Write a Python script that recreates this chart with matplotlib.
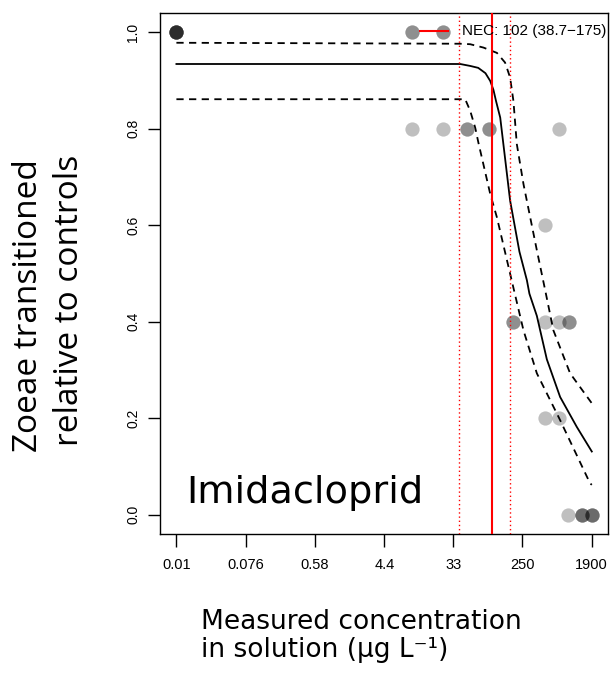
import numpy as np
import matplotlib.pyplot as plt

# observed proportions (n = number of overlapping replicates at that spot)
pt_conc = [0.01, 9.9, 24.5, 9.9, 24.5, 49.4, 95.7, 730, 480, 193, 480, 736, 986, 480, 736, 966, 1455, 1914]
pt_prop = [1.0, 1.0, 1.0, 0.8, 0.8, 0.8, 0.8, 0.8, 0.6, 0.4, 0.4, 0.4, 0.4, 0.2, 0.2, 0.0, 0.0, 0.0]
pt_n = [6, 2, 2, 1, 1, 2, 2, 1, 1, 2, 1, 1, 2, 1, 1, 1, 3, 3]

# fitted NEC curve (median) and credible band
fit_conc = [0.01, 40.6, 54.4, 68.8, 85, 97.7, 107.6, 116, 131, 175, 230, 286, 308, 383, 513, 757, 1233, 1914]
fit_mid = [0.934, 0.934, 0.930, 0.926, 0.915, 0.899, 0.880, 0.857, 0.823, 0.651, 0.545, 0.486, 0.458, 0.412, 0.322, 0.244, 0.182, 0.131]
up_conc = [0.01, 40.6, 54.4, 80.3, 119, 151, 175, 193, 213, 259, 383, 489, 622, 1014, 1914]
up_val = [0.978, 0.976, 0.975, 0.968, 0.957, 0.937, 0.906, 0.857, 0.768, 0.685, 0.548, 0.465, 0.382, 0.293, 0.231]
lo_conc = [0.01, 47, 54.4, 63, 69.4, 97.7, 119, 193, 259, 383, 757, 1820, 1914]
lo_val = [0.861, 0.861, 0.837, 0.802, 0.77, 0.665, 0.616, 0.47, 0.382, 0.293, 0.196, 0.065, 0.062]

nec = 102
nec_lo = 38.7
nec_hi = 175

xticks = [0.01, 0.076, 0.58, 4.4, 33, 250, 1900]
xtick_labels = ['0.01', '0.076', '0.58', '4.4', '33', '250', '1900']
yticks = [0.0, 0.2, 0.4, 0.6, 0.8, 1.0]

fig = plt.figure(figsize=(6.1, 6.76), dpi=100)
ax = fig.add_axes([0.262, 0.210, 0.735, 0.771])

# stack replicates so overlaps darken like the R plot
xs = np.repeat(pt_conc, pt_n)
ys = np.repeat(pt_prop, pt_n)
ax.scatter(xs, ys, s=105, color='black', alpha=0.25, linewidths=0, zorder=2)

ax.plot(fit_conc, fit_mid, color='black', lw=1.3, zorder=3)
ax.plot(up_conc, up_val, color='black', lw=1.3, ls=(0, (4, 3)), zorder=3)
ax.plot(lo_conc, lo_val, color='black', lw=1.3, ls=(0, (4, 3)), zorder=3)

ax.axvline(nec, color='red', lw=1.5, zorder=4)
ax.axvline(nec_lo, color='red', lw=1, ls=(0, (1, 2)), zorder=4)
ax.axvline(nec_hi, color='red', lw=1, ls=(0, (1, 2)), zorder=4)

# legend drawn by hand, like R's legend(bty='n')
ax.plot([0.580, 0.643], [0.965, 0.965], transform=ax.transAxes, color='red', lw=1.5, zorder=5)
ax.text(0.674, 0.965, 'NEC: %d (%.1f\u2212%d)' % (nec, nec_lo, nec_hi), transform=ax.transAxes,
        fontsize=11, family='Liberation Sans', va='center', ha='left', color='black', zorder=5)

ax.text(0.06, 0.060, 'Imidacloprid', transform=ax.transAxes, fontsize=27.5,
        family='DejaVu Sans', ha='left', va='baseline')

ax.set_xscale('log')
ax.set_xlim(10 ** -2.211, 10 ** 3.490)
ax.set_ylim(-0.04, 1.04)
ax.set_xticks(xticks)
ax.set_xticklabels(xtick_labels, family='Liberation Sans', fontsize=10.5)
ax.minorticks_off()
ax.set_yticks(yticks)
ax.set_yticklabels(['%.1f' % v for v in yticks], family='Liberation Sans', fontsize=10,
                   rotation=90, va='center')
ax.tick_params(axis='x', length=9, width=1, pad=8)
ax.tick_params(axis='y', length=9, width=1, pad=5)
for sp in ax.spines.values():
    sp.set_linewidth(1)

fig.text(37 / 610, 1 - 306 / 676, 'Zoeae transitioned', rotation=90, family='Open Sans',
         fontsize=24, ha='center', va='baseline', rotation_mode='anchor')
fig.text(78 / 610, 1 - 300 / 676, 'relative to controls', rotation=90, family='Open Sans',
         fontsize=24, ha='center', va='baseline', rotation_mode='anchor')

# va='baseline' on a two-line text pins the last line's baseline
fig.text(201 / 610, 1 - 657 / 676, 'Measured concentration\nin solution (\u03bcg L\u207b\u00b9)',
         family='DejaVu Sans', fontsize=19, ha='left', va='baseline', linespacing=1.12)

fig.savefig('out.png', dpi=100)
